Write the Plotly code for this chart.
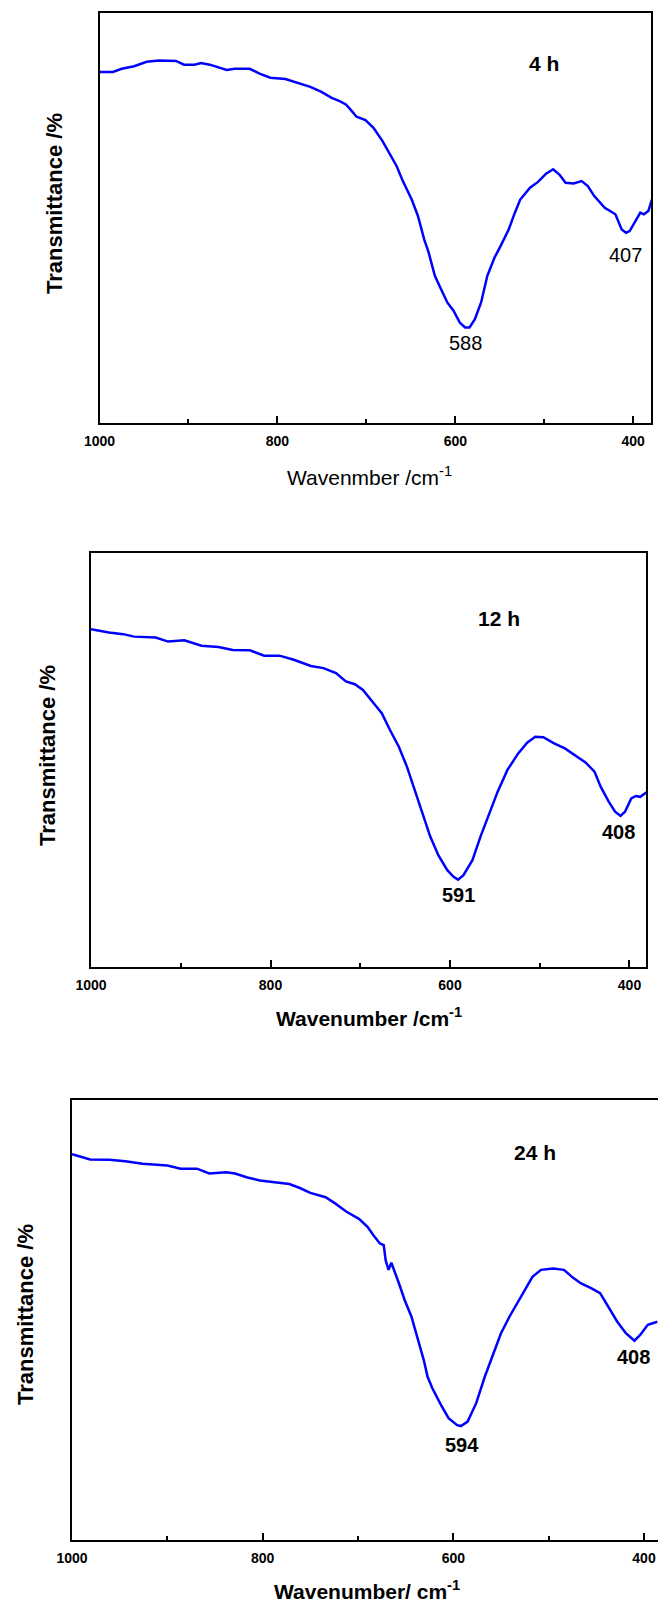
import plotly.graph_objects as go

# ---------------- data ----------------
wn_4h = [1000, 985, 975, 961, 947, 933, 914, 905, 893, 886, 876, 867, 857, 848, 831, 820, 808, 791,
         777, 763, 751, 739, 730, 723, 718, 711, 701, 692, 682, 673, 666, 659, 649, 642, 635, 630,
         623, 616, 609, 602, 595, 589, 584, 578, 571, 564, 556, 549, 540, 533, 527, 516, 507, 498,
         490, 483, 476, 467, 458, 451, 444, 432, 420, 413, 408, 404, 397, 392, 388, 383, 379]
tr_4h = [85.6, 85.6, 86.4, 87.0, 88.1, 88.4, 88.3, 87.4, 87.4, 87.8, 87.4, 86.8, 86.1, 86.4, 86.4, 85.2,
         84.2, 83.9, 83.0, 82.0, 80.8, 79.3, 78.5, 77.7, 76.5, 74.7, 73.9, 72.0, 68.8, 65.5, 62.7, 59.0,
         54.5, 50.5, 44.8, 41.6, 35.9, 32.6, 29.4, 27.4, 24.5, 23.3, 23.3, 25.3, 29.4, 35.9, 40.3, 43.2,
         47.2, 51.3, 54.5, 57.4, 58.8, 60.8, 61.9, 60.6, 58.6, 58.4, 59.0, 57.8, 55.4, 52.5, 50.9, 47.2,
         46.4, 46.8, 49.3, 51.3, 50.9, 51.7, 54.5]

wn_12h = [1000, 992, 980, 964, 952, 928, 914, 896, 877, 858, 842, 823, 807, 790, 774, 755, 741, 727,
          723, 716, 706, 697, 685, 676, 667, 657, 648, 638, 629, 622, 613, 603, 596, 591, 585, 575,
          566, 556, 547, 536, 524, 514, 505, 496, 484, 472, 461, 449, 439, 432, 423, 416, 410, 405,
          398, 393, 388, 381]
tr_12h = [81.6, 81.3, 80.8, 80.4, 79.8, 79.6, 78.6, 78.9, 77.6, 77.3, 76.6, 76.5, 75.2, 75.2, 74.2,
          72.7, 72.2, 71.0, 70.2, 69.0, 68.3, 66.9, 63.7, 61.3, 57.3, 53.2, 48.4, 41.9, 35.5, 31.5,
          27.0, 23.4, 21.8, 21.1, 22.2, 25.8, 31.5, 37.1, 42.3, 47.6, 51.6, 54.2, 55.6, 55.5, 54.0,
          52.8, 51.2, 49.4, 47.2, 43.5, 39.9, 37.5, 36.5, 37.5, 40.7, 41.3, 41.1, 42.2]

wn_24h = [1000, 990, 981, 961, 944, 926, 900, 886, 869, 856, 838, 829, 816, 803, 785, 772, 761, 750,
          734, 724, 712, 699, 690, 684, 677, 673, 671, 668, 665, 662, 657, 651, 644, 637, 631, 627,
          622, 613, 605, 596, 592, 585, 576, 567, 558, 550, 541, 528, 517, 508, 495, 484, 475, 466,
          455, 446, 437, 428, 419, 410, 404, 396, 386]
tr_24h = [87.7, 87.1, 86.5, 86.4, 86.1, 85.5, 85.1, 84.4, 84.4, 83.3, 83.6, 83.3, 82.4, 81.7, 81.2,
          80.9, 80.0, 78.9, 77.9, 76.5, 74.6, 73.0, 71.2, 69.3, 67.4, 67.0, 63.6, 61.4, 63.0, 61.4,
          58.3, 54.5, 50.8, 45.5, 40.9, 37.1, 34.5, 30.7, 27.7, 26.1, 25.9, 26.9, 31.1, 37.1, 42.4,
          47.0, 50.8, 55.7, 59.8, 61.4, 61.7, 61.4, 59.7, 58.3, 57.2, 56.1, 53.0, 49.6, 47.0, 45.3,
          46.6, 48.9, 49.6]

panel_labels = ["4 h", "12 h", "24 h"]
peak_labels = [["588", "407"], ["591", "408"], ["594", "408"]]
x_titles = ["Wavenmber /cm<sup>-1</sup>", "Wavenumber /cm<sup>-1</sup>", "Wavenumber/ cm<sup>-1</sup>"]
y_title = "Transmittance /%"
tick_vals = [1000, 800, 600, 400]
minor_vals = [900, 700, 500]

# ---------------- layout helpers ----------------
W, H = 658, 1609
def fx(px):
    return px / W
def fy(py):
    return 1 - py / H

BLUE = "#0000ff"
FONT = "Arial, Liberation Sans, sans-serif"

fig = go.Figure()
series = [(wn_4h, tr_4h), (wn_12h, tr_12h), (wn_24h, tr_24h)]
for i, (xv, yv) in enumerate(series):
    sfx = "" if i == 0 else str(i + 1)
    fig.add_trace(go.Scatter(x=xv, y=yv, mode="lines", line=dict(color=BLUE, width=2.5),
                             xaxis="x" + sfx, yaxis="y" + sfx, showlegend=False, hoverinfo="skip"))

# panel boxes in pixels: left, right, top, bottom, x-range end
boxes = [(99.5, 651, 13, 423, 380.0),
         (91, 646, 553, 967, 381.6),
         (72, 658, 1100, 1540, 385.3)]

for i, (l, r, t, b, xend) in enumerate(boxes):
    sfx = "" if i == 0 else str(i + 1)
    xa = dict(domain=[fx(l), fx(r)], range=[1000, xend], anchor="y" + sfx, automargin=False,
              showline=True, linecolor="black", linewidth=2, mirror=True,
              showgrid=False, zeroline=False, ticks="inside", ticklen=7, tickwidth=2,
              tickcolor="black", tickmode="array", tickvals=tick_vals,
              tickfont=dict(family=FONT, size=14, color="black", weight="bold"),
              ticklabelstandoff=4,
              minor=dict(ticks="inside", ticklen=4, tickwidth=2, tickcolor="black",
                         tickmode="array", tickvals=minor_vals, showgrid=False))
    ya = dict(domain=[fy(b), fy(t)], range=[0, 100], anchor="x" + sfx, automargin=False,
              showline=True, linecolor="black", linewidth=2, mirror=(i < 2),
              showgrid=False, zeroline=False, showticklabels=False, ticks="")
    fig.layout["xaxis" + sfx] = xa
    fig.layout["yaxis" + sfx] = ya

annotations = []
# panel time labels and peak labels (data coordinates)
label_pos = [[(500.6, 87.8), (588, 19.5), (408.5, 41.0)],
             [(545.4, 84.1), (591, 17.4), (412.8, 32.6)],
             [(514.3, 88.0), (591.3, 21.6), (410.8, 41.7)]]
for i in range(3):
    sfx = "" if i == 0 else str(i + 1)
    (hx, hy), (p1x, p1y), (p2x, p2y) = label_pos[i]
    annotations.append(dict(x=hx, y=hy, xref="x" + sfx, yref="y" + sfx, text=panel_labels[i],
                            showarrow=False, font=dict(family=FONT, size=21, color="black", weight="bold")))
    pk_weight = "normal" if i == 0 else "bold"
    annotations.append(dict(x=p1x, y=p1y, xref="x" + sfx, yref="y" + sfx, text=peak_labels[i][0],
                            showarrow=False, font=dict(family=FONT, size=20, color="black", weight=pk_weight)))
    annotations.append(dict(x=p2x, y=p2y, xref="x" + sfx, yref="y" + sfx, text=peak_labels[i][1],
                            showarrow=False, font=dict(family=FONT, size=20, color="black", weight=pk_weight)))

# axis titles (paper coordinates)
xt_pos = [(369, 476), (369, 1017), (367, 1590)]
yt_pos = [(55, 204), (47, 756), (25, 1315)]
for i in range(3):
    xw = "normal" if i == 0 else "bold"
    annotations.append(dict(x=fx(xt_pos[i][0]), y=fy(xt_pos[i][1]), xref="paper", yref="paper",
                            text=x_titles[i], showarrow=False, xanchor="center", yanchor="middle",
                            font=dict(family=FONT, size=21, color="black", weight=xw)))
    annotations.append(dict(x=fx(yt_pos[i][0]), y=fy(yt_pos[i][1]), xref="paper", yref="paper",
                            text=y_title, showarrow=False, textangle=-90, xanchor="center", yanchor="middle",
                            font=dict(family=FONT, size=22, color="black", weight="bold")))

fig.update_layout(width=W, height=H, margin=dict(l=0, r=0, t=0, b=0, pad=0, autoexpand=False),
                  paper_bgcolor="white", plot_bgcolor="white", annotations=annotations,
                  showlegend=False)

fig.write_html("out.html", config={"displayModeBar": False})
